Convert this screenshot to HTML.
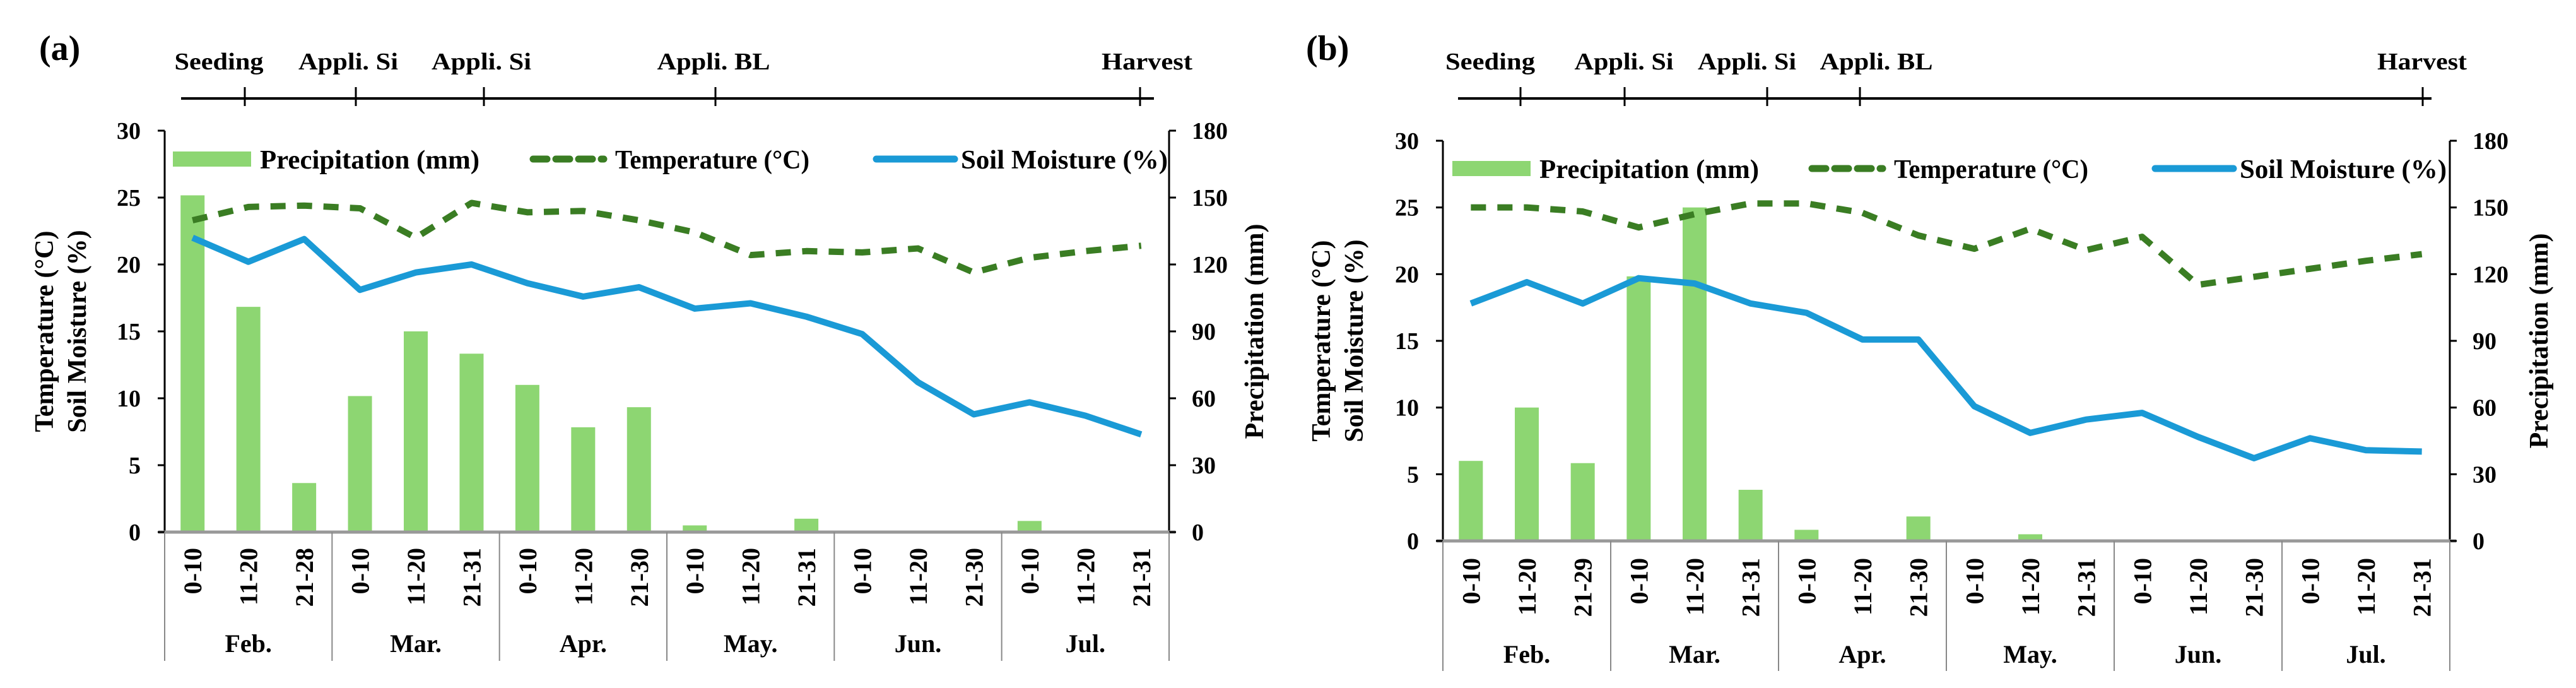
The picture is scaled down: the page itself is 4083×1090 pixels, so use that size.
<!DOCTYPE html>
<html><head><meta charset="utf-8">
<style>
html,body{margin:0;padding:0;background:#fff;}
svg{display:block;font-family:"Liberation Serif",serif;font-weight:bold;}
</style></head>
<body>
<svg id="chart" width="4083" height="1090" viewBox="0 0 4083 1090" xmlns="http://www.w3.org/2000/svg"></svg>
<script>
// ---- data ----
const monthsA = ["Feb.","Mar.","Apr.","May.","Jun.","Jul."];
const catsA = ["0-10","11-20","21-28","0-10","11-20","21-31","0-10","11-20","21-30","0-10","11-20","21-31","0-10","11-20","21-30","0-10","11-20","21-31"];
const precipA = [151,101,22,61,90,80,66,47,56,3,0,6,0,0,0,5,0,0];
const tempA = [23.3,24.3,24.4,24.2,22.0,24.6,23.9,24.0,23.3,22.4,20.7,21.0,20.9,21.2,19.4,20.5,21.0,21.4];
const soilA = [22.0,20.2,21.9,18.1,19.4,20.0,18.6,17.6,18.3,16.7,17.1,16.1,14.8,11.2,8.8,9.7,8.7,7.3];
const stagesA = ["Seeding","Appli. Si","Appli. Si","Appli. BL","Harvest"];

const monthsB = ["Feb.","Mar.","Apr.","May.","Jun.","Jul."];
const catsB = ["0-10","11-20","21-29","0-10","11-20","21-31","0-10","11-20","21-30","0-10","11-20","21-31","0-10","11-20","21-30","0-10","11-20","21-31"];
const precipB = [36,60,35,119,150,23,5,0,11,0,3,0,0,0,0,0,0,0];
const tempB = [25.0,25.0,24.7,23.5,24.5,25.3,25.3,24.6,22.9,21.9,23.4,21.8,22.8,19.2,19.8,20.4,21.0,21.5];
const soilB = [17.8,19.4,17.8,19.7,19.3,17.8,17.1,15.1,15.1,10.1,8.1,9.1,9.6,7.8,6.2,7.7,6.8,6.7];
const stagesB = ["Seeding","Appli. Si","Appli. Si","Appli. BL","Harvest"];

const leftTicks = [0,5,10,15,20,25,30];
const rightTicks = [0,30,60,90,120,150,180];

const svg = document.getElementById('chart');
const NS = "http://www.w3.org/2000/svg";
function mk(tag, attrs, parent){
  const e = document.createElementNS(NS, tag);
  for (const k in attrs) e.setAttribute(k, attrs[k]);
  (parent||svg).appendChild(e);
  return e;
}
function txt(s, attrs, parent){ const t = mk('text', attrs, parent); t.textContent = s; return t; }

function drawPanel(o){
  const g = mk('g', {});
  
  
  const n = o.cats.length;
  const bw = (o.x1 - o.x0) / n;
  const xc = i => o.x0 + bw * (i + 0.5);
  const yL = v => o.y0 - (v / 30) * (o.y0 - o.yTop);
  const yR = v => o.y0 - (v / 180) * (o.y0 - o.yTop);

  const pl = txt(o.label, {x:o.labelX, y:95, 'font-size':56}, g);
  
  

  const tl = mk('g', {}, g);
  
  
  mk('line', {x1:o.tlStart, x2:o.tlEnd, y1:156, y2:156, stroke:'#000', 'stroke-width':4}, tl);
  o.stageTicks.forEach((sx, i) => {
    mk('line', {x1:sx, x2:sx, y1:138, y2:168, stroke:'#000', 'stroke-width':3}, tl);
    const t = txt(o.stages[i], {x:o.stageLabelX[i], y:110, 'font-size':38, 'text-anchor':'middle', textLength:o.stageLabelW[i], lengthAdjust:'spacingAndGlyphs'}, tl);
    
    
  });

  o.precip.forEach((v, i) => {
    if (v <= 0) return;
    const r = mk('rect', {x:xc(i) - 19, y:yR(v), width:38, height:o.y0 - yR(v), fill:'#8dd672'}, g);
    
    
  });

  const tp = o.temp.map((v, i) => xc(i) + ',' + yL(v)).join(' ');
  const tline = mk('polyline', {points:tp, fill:'none', stroke:'#3a7d23', 'stroke-width':10, 'stroke-dasharray':'24 18', 'stroke-linejoin':'round'}, g);
  
  
  const sp = o.soil.map((v, i) => xc(i) + ',' + yL(v)).join(' ');
  const sline = mk('polyline', {points:sp, fill:'none', stroke:'#1a9ad6', 'stroke-width':10, 'stroke-linejoin':'round'}, g);
  
  

  mk('line', {x1:o.x0, x2:o.x0, y1:o.yTop, y2:o.y0, stroke:'#000', 'stroke-width':3}, g);
  mk('line', {x1:o.x1, x2:o.x1, y1:o.yTop, y2:o.y0, stroke:'#000', 'stroke-width':3}, g);
  mk('line', {x1:o.x0 - 10, x2:o.x1 + 10, y1:o.y0, y2:o.y0, stroke:'#999', 'stroke-width':5}, g);
  leftTicks.forEach(v => {
    mk('line', {x1:o.x0 - 11, x2:o.x0, y1:yL(v), y2:yL(v), stroke:'#000', 'stroke-width':3}, g);
    const t = txt(String(v), {x:o.x0 - 38, y:yL(v) + 13, 'font-size':38, 'text-anchor':'end'}, g);
    
    
  });
  rightTicks.forEach(v => {
    mk('line', {x1:o.x1, x2:o.x1 + 11, y1:yR(v), y2:yR(v), stroke:'#000', 'stroke-width':3}, g);
    const t = txt(String(v), {x:o.x1 + 36, y:yR(v) + 13, 'font-size':38, 'text-anchor':'start'}, g);
    
    
  });

  o.cats.forEach((c, i) => {
    const t = txt(c, {x:0, y:0, 'font-size':40, 'text-anchor':'end', transform:`translate(${xc(i)+14},${o.catTop}) rotate(-90)`}, g);
    
    
  });
  for (let m = 0; m <= o.months.length; m++) {
    const x = o.x0 + bw * 3 * m;
    mk('line', {x1:x, x2:x, y1:o.y0, y2:o.sepBottom, stroke:'#888', 'stroke-width':2}, g);
  }
  o.months.forEach((mo, m) => {
    const t = txt(mo, {x:o.x0 + bw * (3 * m + 1.5), y:o.monthY, 'font-size':40, 'text-anchor':'middle'}, g);
    
    
  });

  const cy = (o.yTop + o.y0) / 2;
  const at1 = txt('Temperature (°C)', {x:0, y:0, 'font-size':42, 'text-anchor':'middle', transform:`translate(${o.ttlX1},${cy}) rotate(-90)`}, g);
  
  
  const at2 = txt('Soil Moisture (%)', {x:0, y:0, 'font-size':42, 'text-anchor':'middle', transform:`translate(${o.ttlX2},${cy}) rotate(-90)`}, g);
  
  
  const at3 = txt('Precipitation (mm)', {x:0, y:0, 'font-size':42, 'text-anchor':'middle', transform:`translate(${o.ttlR},${cy}) rotate(-90)`}, g);
  
  

  const lg = mk('g', {}, g);
  
  
  const ly = o.legY;
  mk('rect', {x:o.legP, y:ly - 12, width:124, height:24, fill:'#8dd672'}, lg);
  const l1 = txt('Precipitation (mm)', {x:o.legP + 138, y:ly + 15, 'font-size':42, textLength:348, lengthAdjust:'spacingAndGlyphs'}, lg);
  
  
  mk('line', {x1:o.legT + 6, x2:o.legT + 118, y1:ly, y2:ly, stroke:'#3a7d23', 'stroke-width':11, 'stroke-dasharray':'22 14', 'stroke-linecap':'round'}, lg);
  const l2 = txt('Temperature (°C)', {x:o.legT + 136, y:ly + 15, 'font-size':42, textLength:308, lengthAdjust:'spacingAndGlyphs'}, lg);
  
  
  mk('line', {x1:o.legS, x2:o.legS + 124, y1:ly, y2:ly, stroke:'#1a9ad6', 'stroke-width':11, 'stroke-linecap':'round'}, lg);
  const l3 = txt('Soil Moisture (%)', {x:o.legS + 134, y:ly + 15, 'font-size':42, textLength:328, lengthAdjust:'spacingAndGlyphs'}, lg);
  
  
}

drawPanel({name:'panel-a', label:'(a)', labelX:62, x0:261, x1:1853, yTop:207, y0:843,
  cats:catsA, months:monthsA, precip:precipA, temp:tempA, soil:soilA, stages:stagesA,
  tlStart:287, tlEnd:1829, stageTicks:[388,564,767,1134,1807],
  stageLabelX:[347,552,763,1131,1818], stageLabelW:[141,158,158,179,144],
  catTop:868, sepBottom:1047, monthY:1033,
  ttlX1:84, ttlX2:136, ttlR:2002, legY:252, legP:274, legT:839, legS:1389});

drawPanel({name:'panel-b', label:'(b)', labelX:2070, x0:2287, x1:3883, yTop:223, y0:857,
  cats:catsB, months:monthsB, precip:precipB, temp:tempB, soil:soilB, stages:stagesB,
  tlStart:2311, tlEnd:3854, stageTicks:[2410,2575,2801,2948,3840],
  stageLabelX:[2362,2574,2769,2974,3839], stageLabelW:[142,157,156,179,142],
  catTop:884, sepBottom:1063, monthY:1050,
  ttlX1:2108, ttlX2:2160, ttlR:4038, legY:267, legP:2302, legT:2866, legS:3416});
</script>
</body></html>
